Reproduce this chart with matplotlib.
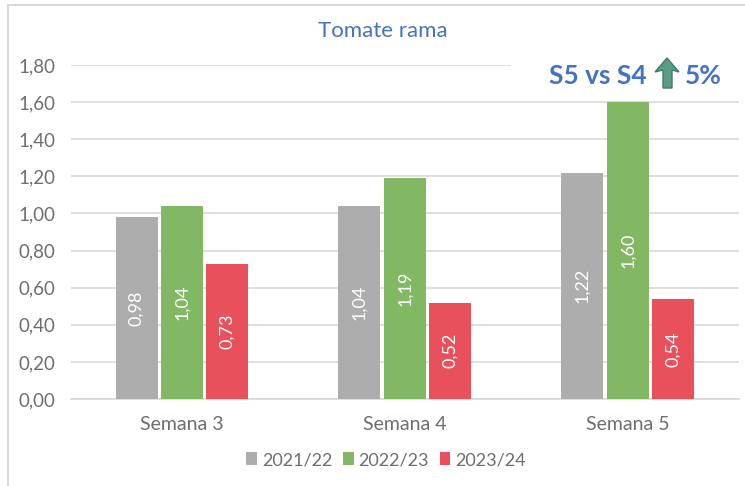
import numpy as np
import matplotlib
matplotlib.use("Agg")
import matplotlib.pyplot as plt
from matplotlib.patches import Polygon
from matplotlib.lines import Line2D

W, H = 745, 486

semanas = ["Semana 3", "Semana 4", "Semana 5"]
campanas = ["2021/22", "2022/23", "2023/24"]
v_2122 = [0.98, 1.04, 1.22]
v_2223 = [1.04, 1.19, 1.60]
v_2324 = [0.73, 0.52, 0.54]
ticks_y = [0.0, 0.2, 0.4, 0.6, 0.8, 1.0, 1.2, 1.4, 1.6, 1.8]
colores = ["#ADADAD", "#82B863", "#E8505B"]

plt.rcParams["font.family"] = ["Lato", "DejaVu Sans"]
gris = "#6E6E6E"
azul = "#4472C4"

fig = plt.figure(figsize=(W / 100, H / 100), dpi=100)
fig.patch.set_facecolor("white")

# marco del grafico: solo se ve arriba y a la izquierda
fig.add_artist(Line2D([8 / W, 8 / W, 1], [0, 1 - 5 / H, 1 - 5 / H], color="#D9D9D9", lw=1.5,
                      transform=fig.transFigure))

ax = fig.add_axes([70.5 / W, 1 - 399 / H, 669 / W, 334 / H])
ax.set_xlim(-0.5, 2.5)
ax.set_ylim(0, 1.8)

x = np.arange(len(semanas))
paso = 45.5 / 223
ancho = 42 / 223
for i, vals in enumerate([v_2122, v_2223, v_2324]):
    barras = ax.bar(x + (i - 1) * paso, vals, ancho, color=colores[i], label=campanas[i], zorder=3)
    for b, v in zip(barras, vals):
        ax.text(b.get_x() + b.get_width() / 2, v / 2, f"{v:.2f}".replace(".", ","),
                rotation=90, ha="center", va="center", color="white", fontsize=13, zorder=4)

ax.set_yticks(ticks_y)
ax.set_yticklabels([f"{t:.2f}".replace(".", ",") for t in ticks_y], color=gris, fontsize=13.5)
ax.set_xticks(x)
ax.set_xticklabels(semanas, color=gris, fontsize=14)
ax.tick_params(length=0)
ax.tick_params(axis="y", pad=11)
ax.tick_params(axis="x", pad=12)
ax.grid(axis="y", color="#D9D9D9", lw=1.2, zorder=0)
ax.set_axisbelow(True)
for s in ["top", "right", "left"]:
    ax.spines[s].set_visible(False)
ax.spines["bottom"].set_color("#D9D9D9")
ax.spines["bottom"].set_linewidth(1.2)
ax.margins(0)

fig.text(383 / W, 1 - 31 / H, "Tomate rama", color=azul, fontsize=16, ha="center", va="center")

# tapa la linea de 1,80 detras del comentario
ax.add_patch(plt.Rectangle((511 / W, 1 - 92 / H), 234 / W, 36 / H, fc="white", ec="none",
                           transform=fig.transFigure, zorder=1, clip_on=False))
fig.text(549 / W, 1 - 76 / H, "S5 vs S4", color=azul, fontsize=19, fontweight="bold",
         ha="left", va="center", zorder=6)
fig.text(685 / W, 1 - 76 / H, "5%", color=azul, fontsize=19, fontweight="bold",
         ha="left", va="center", zorder=6)
flecha = [(667, 58), (679, 72), (672, 70), (672, 88), (663, 88), (663, 70), (655, 72)]
fig.add_artist(Polygon([(a / W, 1 - b / H) for a, b in flecha], closed=True, fc="#5B9C87",
                       ec="#3F7D69", lw=1, transform=fig.transFigure, zorder=6))

ax.legend(loc="center", bbox_to_anchor=(386 / W, 1 - 460 / H), bbox_transform=fig.transFigure,
          ncol=3, frameon=False, fontsize=13, labelcolor=gris, handlelength=0.6, handleheight=0.7,
          handletextpad=0.25, columnspacing=0.6, borderpad=0, borderaxespad=0)

fig.savefig("out.png", dpi=100)
